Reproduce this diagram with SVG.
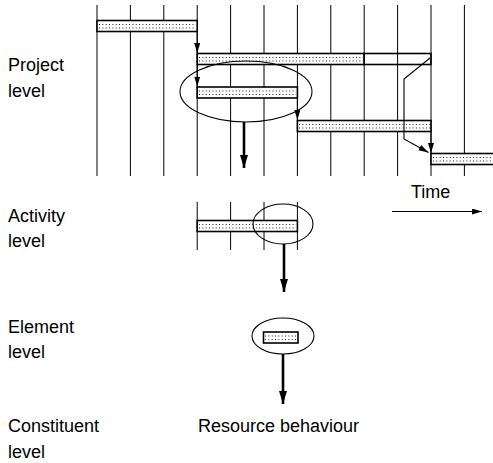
<svg xmlns="http://www.w3.org/2000/svg" width="493" height="463" viewBox="0 0 493 463">
  <style>
    .grid { stroke: #000; stroke-width: 1; }
    .bar { fill: #fff; stroke: #000; stroke-width: 1.6; }
    .open { fill: none; stroke: #000; stroke-width: 1.6; }
    .dots { stroke: #222; stroke-width: 1; stroke-dasharray: 1 2.34; }
    .link { fill: none; stroke: #000; stroke-width: 1.1; marker-end: url(#head); }
    .flow { fill: none; stroke: #000; stroke-width: 2.6; marker-end: url(#bighead); }
    .ring { fill: none; stroke: #000; stroke-width: 1.1; }
    .label { font-family: "Liberation Sans", Arial, sans-serif; font-size: 18px; fill: #000; }
  </style>
  <defs>
    <marker id="head" markerUnits="userSpaceOnUse" markerWidth="11" markerHeight="7" refX="10" refY="3" orient="auto">
      <path d="M0,0 L10,3 L0,6 z" fill="#000"/>
    </marker>
    <marker id="bighead" markerUnits="userSpaceOnUse" markerWidth="14" markerHeight="9" refX="13" refY="4" orient="auto">
      <path d="M0,0 L13,4 L0,8 z" fill="#000"/>
    </marker>
  </defs>

  <!-- time grid -->
  <g id="time-grid" class="grid">
    <line x1="97" y1="5" x2="97" y2="176"/>
    <line x1="130.4" y1="5" x2="130.4" y2="176"/>
    <line x1="163.8" y1="5" x2="163.8" y2="176"/>
    <line x1="197.2" y1="5" x2="197.2" y2="176"/>
    <line x1="230.6" y1="5" x2="230.6" y2="176"/>
    <line x1="264" y1="5" x2="264" y2="176"/>
    <line x1="297.4" y1="5" x2="297.4" y2="176"/>
    <line x1="330.8" y1="5" x2="330.8" y2="176"/>
    <line x1="364.2" y1="5" x2="364.2" y2="176"/>
    <line x1="397.6" y1="5" x2="397.6" y2="176"/>
    <line x1="431" y1="5" x2="431" y2="176"/>
    <line x1="464.4" y1="5" x2="464.4" y2="176"/>
  </g>

  <!-- project level activities -->
  <g id="task-1">
    <rect class="bar" x="97" y="20.5" width="100.2" height="11"/>
    <line class="dots" x1="99" y1="24.5" x2="196" y2="24.5"/>
    <line class="dots" x1="99" y1="28" x2="196" y2="28"/>
  </g>
  <g id="task-2">
    <rect class="bar" x="197.2" y="53.5" width="167" height="11"/>
    <line class="dots" x1="199" y1="57.5" x2="363" y2="57.5"/>
    <line class="dots" x1="199" y1="61" x2="363" y2="61"/>
    <rect class="open" x="364.2" y="53.5" width="66.8" height="11"/>
  </g>
  <g id="task-3">
    <rect class="bar" x="197.2" y="87" width="100.2" height="11"/>
    <line class="dots" x1="199" y1="91" x2="296" y2="91"/>
    <line class="dots" x1="199" y1="94.5" x2="296" y2="94.5"/>
  </g>
  <g id="task-4">
    <rect class="bar" x="297.4" y="120.5" width="133.6" height="11"/>
    <line class="dots" x1="299" y1="124.5" x2="430" y2="124.5"/>
    <line class="dots" x1="299" y1="128" x2="430" y2="128"/>
  </g>
  <g id="task-5">
    <rect class="bar" x="431" y="153.5" width="70" height="11"/>
    <line class="dots" x1="433" y1="157.5" x2="493" y2="157.5"/>
    <line class="dots" x1="433" y1="161" x2="493" y2="161"/>
  </g>
  <ellipse id="project-focus" class="ring" cx="246" cy="91.5" rx="66" ry="30.5"/>

  <!-- activity level -->
  <g id="activity">
    <g class="grid">
      <line x1="197.2" y1="202" x2="197.2" y2="250"/>
      <line x1="230.6" y1="202" x2="230.6" y2="250"/>
      <line x1="264" y1="202" x2="264" y2="250"/>
      <line x1="297.4" y1="202" x2="297.4" y2="250"/>
    </g>
    <rect class="bar" x="197.2" y="220.5" width="100.2" height="11"/>
    <line class="dots" x1="199" y1="224.5" x2="296" y2="224.5"/>
    <line class="dots" x1="199" y1="228" x2="296" y2="228"/>
    <ellipse class="ring" cx="283" cy="224" rx="30" ry="20"/>
  </g>

  <!-- element level -->
  <g id="element">
    <ellipse class="ring" cx="283" cy="336" rx="31" ry="18"/>
    <rect class="bar" x="263.5" y="332" width="34.5" height="11"/>
    <line class="dots" x1="265" y1="336" x2="297" y2="336"/>
    <line class="dots" x1="265" y1="339.5" x2="297" y2="339.5"/>
  </g>

  <!-- connectors -->
  <g id="connectors">
    <line class="link" x1="197.2" y1="32" x2="197.2" y2="53"/>
    <line class="link" x1="197.2" y1="65" x2="197.2" y2="86.5"/>
    <line class="link" x1="297.4" y1="98" x2="297.4" y2="120"/>
    <line class="link" x1="431" y1="132" x2="431" y2="153"/>
    <polyline class="link" points="430,58 404,79 404,139 428.5,152.5"/>
    <line class="flow" x1="244" y1="122" x2="244" y2="168"/>
    <line class="flow" x1="284" y1="244" x2="284" y2="292"/>
    <line class="flow" x1="283" y1="354" x2="283" y2="404"/>
    <line class="link" x1="392" y1="211.5" x2="482" y2="211.5"/>
  </g>

  <!-- labels -->
  <g id="labels">
    <text class="label" x="8" y="71">Project</text>
    <text class="label" x="8" y="97">level</text>
    <text class="label" x="8" y="222">Activity</text>
    <text class="label" x="8" y="247">level</text>
    <text class="label" x="8" y="333">Element</text>
    <text class="label" x="8" y="358">level</text>
    <text class="label" x="8" y="432">Constituent</text>
    <text class="label" x="8" y="458">level</text>
    <text class="label" x="198" y="432">Resource behaviour</text>
    <text class="label" x="411" y="198">Time</text>
  </g>
</svg>
